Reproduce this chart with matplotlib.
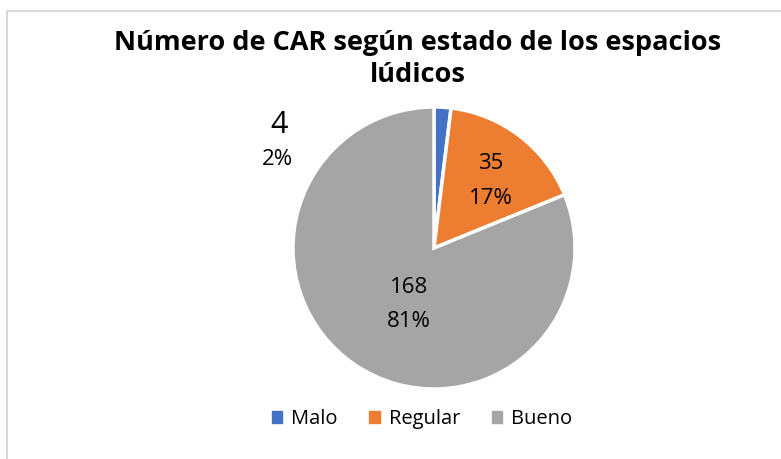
import matplotlib
matplotlib.use("Agg")
import matplotlib.pyplot as plt
import numpy as np

categories = ["Malo", "Regular", "Bueno"]
values = [4, 35, 168]
colors = ["#4472C4", "#ED7D31", "#A5A5A5"]
title = "Número de CAR según estado de los espacios\nlúdicos"

plt.rcParams['font.family'] = ['Open Sans', 'DejaVu Sans']

W, H = 781, 459
fig = plt.figure(figsize=(W / 100, H / 100), dpi=100)

# border (left/top visible)
fig.add_artist(plt.Line2D([7 / W, 7 / W], [0, 1 - 11 / H], color="#D9D9D9", lw=1.5))
fig.add_artist(plt.Line2D([7 / W, 1], [1 - 11 / H, 1 - 11 / H], color="#D9D9D9", lw=1.5))

cx, cy, r = 434, 248, 141
ax = fig.add_axes([(cx - r) / W, (H - cy - r) / H, 2 * r / W, 2 * r / H])
wedges, _ = ax.pie(values, colors=colors, startangle=90, counterclock=False,
                   wedgeprops=dict(edgecolor="white", linewidth=2.5), radius=1)
ax.set_xlim(-1, 1)
ax.set_ylim(-1, 1)
ax.axis("off")

total = sum(values)
pcts = [f"{round(v / total * 100):d}%" for v in values]

# label positions in radius units (Excel layout)
lab_pos = [(-1.10, 0.87, -1.11, 0.63), (0.40, 0.60, 0.40, 0.35), (-0.18, -0.28, -0.18, -0.52)]
for i, (x1, y1, x2, y2) in enumerate(lab_pos):
    ax.text(x1, y1, str(values[i]), ha="center", va="center",
            fontsize=22 if i == 0 else 16, color="#000000", clip_on=False)
    ax.text(x2, y2, pcts[i], ha="center", va="center", fontsize=16,
            color="#000000", clip_on=False)

fig.text(418 / W, 1 - 59 / H, title, ha="center", va="center", fontsize=19.5,
         fontweight="bold", linespacing=1.35)

handles = [plt.Rectangle((0, 0), 1, 1, color=c) for c in colors]
fig.legend(handles, categories, loc="center", bbox_to_anchor=(422 / W, 1 - 419 / H),
           ncol=3, frameon=False, fontsize=14.5, handlelength=0.5, handleheight=0.5,
           handletextpad=0.45, columnspacing=1.6)

fig.savefig("out.png", dpi=100)
